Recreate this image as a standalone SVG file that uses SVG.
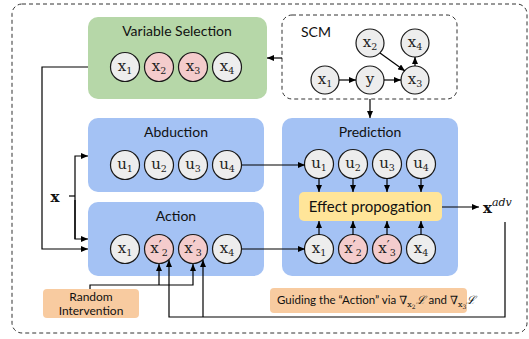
<svg xmlns="http://www.w3.org/2000/svg" width="529" height="339" viewBox="0 0 529 339">
<style>
.t{font-family:Lato,"Open Sans","Liberation Sans",sans-serif;fill:#111;text-anchor:middle}
.ttl{font-size:14px}
.m{font-family:"DejaVu Serif","Liberation Serif",serif;font-size:15px;fill:#222;text-anchor:middle}
.s{font-size:9.5px}
.pr{font-size:13px}
.c{fill:#ededed;stroke:#1a1a1a;stroke-width:1.2}
.p{fill:#f4cccc;stroke:#1a1a1a;stroke-width:1.2}
.ln{fill:none;stroke:#000;stroke-width:1.2}
.a{fill:none;stroke:#000;stroke-width:1.2;marker-end:url(#ah)}
</style>
<defs>
<marker id="ah" markerUnits="userSpaceOnUse" markerWidth="7" markerHeight="6" refX="7" refY="3" orient="auto">
<path d="M0,0 L7,3 L0,6 z" fill="#000"/>
</marker>
</defs>
<rect x="12" y="4" width="515" height="329" rx="10" fill="#fff" stroke="#333" stroke-width="1" stroke-dasharray="4,3"/>

<g id="variable-selection">
<rect x="88" y="17" width="179" height="82" rx="10" fill="#b6d7a8"/>
<text class="t ttl" x="177" y="36">Variable Selection</text>
<circle class="c" cx="125" cy="67" r="14.5"/><text class="m" x="125" y="71">x<tspan class="s" dy="3">1</tspan></text>
<circle class="p" cx="159" cy="67" r="14.5"/><text class="m" x="159" y="71">x<tspan class="s" dy="3">2</tspan></text>
<circle class="p" cx="193" cy="67" r="14.5"/><text class="m" x="193" y="71">x<tspan class="s" dy="3">3</tspan></text>
<circle class="c" cx="227" cy="67" r="14.5"/><text class="m" x="227" y="71">x<tspan class="s" dy="3">4</tspan></text>
</g>

<g id="scm">
<rect x="282" y="15" width="175" height="84" rx="10" fill="#fff" stroke="#333" stroke-width="1" stroke-dasharray="4,3"/>
<text class="t ttl" x="316" y="37">SCM</text>
<circle class="c" cx="370" cy="43" r="14"/><text class="m" x="370" y="47">x<tspan class="s" dy="3">2</tspan></text>
<circle class="c" cx="415" cy="43" r="14"/><text class="m" x="415" y="47">x<tspan class="s" dy="3">4</tspan></text>
<circle class="c" cx="325" cy="80" r="14"/><text class="m" x="325" y="84">x<tspan class="s" dy="3">1</tspan></text>
<circle class="c" cx="370" cy="80" r="14"/><text class="m" x="370" y="84">y</text>
<circle class="c" cx="415" cy="80" r="14"/><text class="m" x="415" y="84">x<tspan class="s" dy="3">3</tspan></text>
</g>

<g id="abduction">
<rect x="88" y="118" width="176" height="74" rx="10" fill="#a4c2f4"/>
<text class="t ttl" x="176" y="137">Abduction</text>
<circle class="c" cx="125" cy="165" r="14.5"/><text class="m" x="125" y="169">u<tspan class="s" dy="3">1</tspan></text>
<circle class="c" cx="159" cy="165" r="14.5"/><text class="m" x="159" y="169">u<tspan class="s" dy="3">2</tspan></text>
<circle class="c" cx="193" cy="165" r="14.5"/><text class="m" x="193" y="169">u<tspan class="s" dy="3">3</tspan></text>
<circle class="c" cx="227" cy="165" r="14.5"/><text class="m" x="227" y="169">u<tspan class="s" dy="3">4</tspan></text>
</g>

<g id="action">
<rect x="88" y="202" width="176" height="74" rx="10" fill="#a4c2f4"/>
<text class="t ttl" x="176" y="221">Action</text>
<circle class="c" cx="125" cy="249" r="14.5"/><text class="m" x="125" y="253">x<tspan class="s" dy="3">1</tspan></text>
<circle class="p" cx="159" cy="249" r="14.5"/><text class="m" x="159" y="253">x<tspan class="pr" dy="-3">′</tspan><tspan class="s" dy="6">2</tspan></text>
<circle class="p" cx="193" cy="249" r="14.5"/><text class="m" x="193" y="253">x<tspan class="pr" dy="-3">′</tspan><tspan class="s" dy="6">3</tspan></text>
<circle class="c" cx="227" cy="249" r="14.5"/><text class="m" x="227" y="253">x<tspan class="s" dy="3">4</tspan></text>
</g>

<g id="prediction">
<rect x="282" y="118" width="176" height="158" rx="10" fill="#a4c2f4"/>
<text class="t ttl" x="370" y="137">Prediction</text>
<circle class="c" cx="319" cy="164" r="14.5"/><text class="m" x="319" y="168">u<tspan class="s" dy="3">1</tspan></text>
<circle class="c" cx="353" cy="164" r="14.5"/><text class="m" x="353" y="168">u<tspan class="s" dy="3">2</tspan></text>
<circle class="c" cx="387" cy="164" r="14.5"/><text class="m" x="387" y="168">u<tspan class="s" dy="3">3</tspan></text>
<circle class="c" cx="421" cy="164" r="14.5"/><text class="m" x="421" y="168">u<tspan class="s" dy="3">4</tspan></text>
<circle class="c" cx="319" cy="249" r="14.5"/><text class="m" x="319" y="253">x<tspan class="s" dy="3">1</tspan></text>
<circle class="p" cx="353" cy="249" r="14.5"/><text class="m" x="353" y="253">x<tspan class="pr" dy="-3">′</tspan><tspan class="s" dy="6">2</tspan></text>
<circle class="p" cx="387" cy="249" r="14.5"/><text class="m" x="387" y="253">x<tspan class="pr" dy="-3">′</tspan><tspan class="s" dy="6">3</tspan></text>
<circle class="c" cx="421" cy="249" r="14.5"/><text class="m" x="421" y="253">x<tspan class="s" dy="3">4</tspan></text>
</g>

<g id="effect-propogation">
<rect x="299" y="192" width="143" height="29" rx="5" fill="#ffe599"/>
<text class="t" x="370" y="212" font-size="15">Effect propogation</text>
</g>

<g id="x-input">
<text x="55" y="202" font-family="'DejaVu Serif','Liberation Serif',serif" font-weight="bold" font-size="15" text-anchor="middle" fill="#111">x</text>
</g>

<g id="x-adv">
<text x="483" y="213" font-family="'DejaVu Serif','Liberation Serif',serif" font-size="15" fill="#111"><tspan font-weight="bold">x</tspan><tspan font-style="italic" font-size="11" dy="-7">adv</tspan></text>
</g>

<g id="random-intervention">
<rect x="43" y="289" width="96" height="29" rx="4" fill="#f8cba0"/>
<text class="t" x="91" y="301" font-size="12">Random</text>
<text class="t" x="91" y="315" font-size="12">Intervention</text>
</g>

<g id="guiding">
<rect x="270" y="288" width="197" height="25" rx="4" fill="#f8cba0"/>
<text x="277" y="304" font-family="Lato,'Open Sans','Liberation Sans',sans-serif" font-size="11.5" fill="#111">Guiding the “Action” via <tspan font-family="'DejaVu Serif',serif">∇</tspan><tspan font-family="'DejaVu Serif',serif" font-size="8" dy="3">x</tspan><tspan font-family="'DejaVu Serif',serif" font-size="6" dy="2">2</tspan><tspan font-family="'DejaVu Serif',serif" font-style="italic" dy="-5">ℒ</tspan> and <tspan font-family="'DejaVu Serif',serif">∇</tspan><tspan font-family="'DejaVu Serif',serif" font-size="8" dy="3">x</tspan><tspan font-family="'DejaVu Serif',serif" font-size="6" dy="2">3</tspan><tspan font-family="'DejaVu Serif',serif" font-style="italic" dy="-5">ℒ</tspan></text>
</g>

<g id="connectors">
<path class="a" d="M282,58 H267"/>
<path class="a" d="M88,67 H42 V249 H88"/>
<path class="a" d="M370,99 V118"/>
<path class="ln" d="M69,196 H75"/>
<path class="a" d="M75,239 V156 H88"/>
<path class="a" d="M75,200 V239 H88"/>
<path class="a" d="M339,80 H356"/>
<path class="a" d="M384,80 H401"/>
<path class="a" d="M380,53 L405,71"/>
<path class="a" d="M415,66 V57"/>
<path class="a" d="M242,165 H305"/>
<path class="a" d="M242,249 H305"/>
<path class="a" d="M319,178 V192"/>
<path class="a" d="M353,178 V192"/>
<path class="a" d="M387,178 V192"/>
<path class="a" d="M421,178 V192"/>
<path class="a" d="M319,235 V221"/>
<path class="a" d="M353,235 V221"/>
<path class="a" d="M387,235 V221"/>
<path class="a" d="M421,235 V221"/>
<path class="a" d="M442,207 H479"/>
<path class="a" d="M505,222 V317 H169 V260"/>
<path class="a" d="M203,317 V260"/>
<path class="a" d="M90,289 V285 H193 V264"/>
<path class="a" d="M159,285 V264"/>
</g>
</svg>
